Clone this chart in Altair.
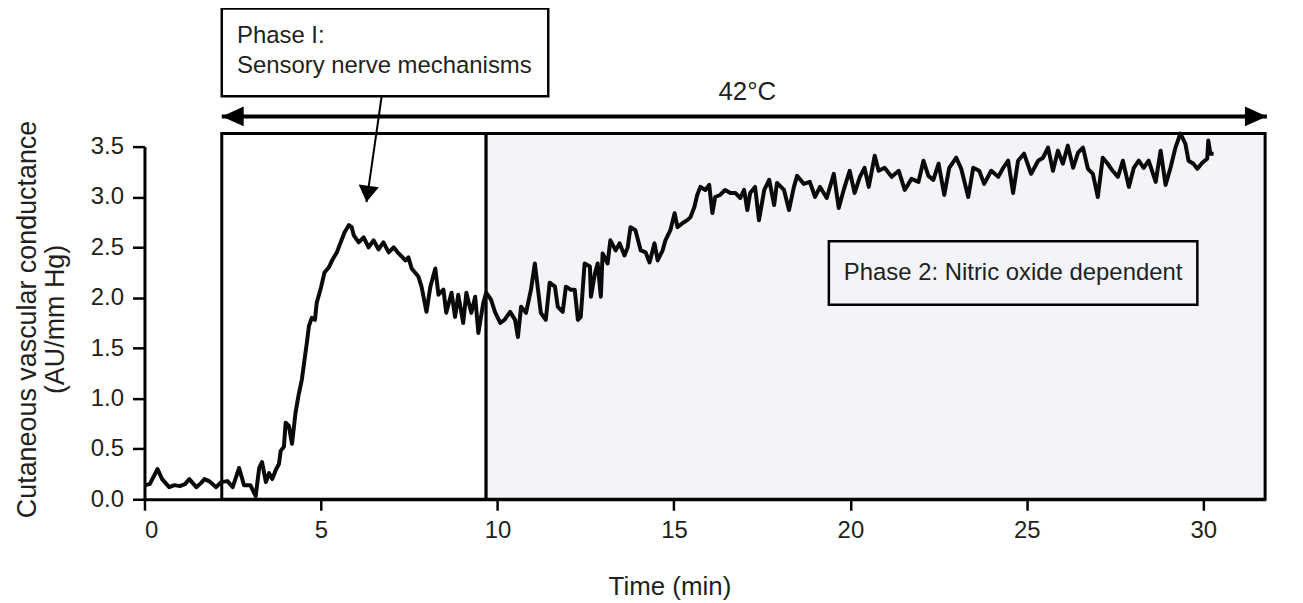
import altair as alt
import pandas as pd

# ---- data ----
time_min = [0.0, 0.15, 0.37, 0.5, 0.7, 0.85, 1.0, 1.15, 1.27, 1.47, 1.6, 1.7, 1.83, 2.03, 2.17, 2.35, 2.5,
            2.68, 2.82, 3.0, 3.15, 3.25, 3.33, 3.44, 3.53, 3.62, 3.72, 3.81, 3.86, 3.95, 4.0, 4.09, 4.18,
            4.28, 4.37, 4.46,
            4.54, 4.6, 4.66, 4.74, 4.83, 4.88, 5.0, 5.1, 5.22, 5.33, 5.45, 5.56, 5.67, 5.79, 5.87, 5.93,
            6.07, 6.21, 6.35, 6.49, 6.63, 6.77, 6.92, 7.06,
            7.2, 7.4, 7.48, 7.57, 7.76, 7.85, 7.99, 8.1, 8.24, 8.33, 8.47, 8.55, 8.7, 8.8, 8.89, 9.03,
            9.12, 9.26, 9.37, 9.46, 9.6, 9.68, 9.82, 9.93, 10.08, 10.2, 10.36, 10.5, 10.58, 10.67, 10.81,
            10.95, 11.06, 11.15, 11.23, 11.37, 11.48, 11.63, 11.71, 11.85, 11.94, 12.08, 12.19, 12.28,
            12.36, 12.47, 12.62, 12.65, 12.76, 12.84, 12.93, 12.98, 13.12, 13.2, 13.35, 13.46, 13.6,
            13.69, 13.77, 13.91, 14.06, 14.2, 14.31, 14.45, 14.54, 14.68, 14.76, 14.9, 15.02, 15.1,
            15.24, 15.38, 15.47, 15.58, 15.66, 15.75, 15.89, 16.0, 16.09, 16.17, 16.31, 16.45, 16.6,
            16.74, 16.88, 16.99, 17.08, 17.16, 17.3, 17.41, 17.56, 17.7, 17.84, 17.92, 18.12, 18.26,
            18.4,
            18.49, 18.68, 18.85, 19.0, 19.14, 19.33, 19.53, 19.67, 19.81, 19.98, 20.12, 20.27, 20.4,
            20.52, 20.69, 20.8, 20.97, 21.17, 21.37, 21.54, 21.73, 21.93, 22.07, 22.21, 22.35, 22.5,
            22.66, 22.8, 23.0, 23.14, 23.34, 23.48, 23.65, 23.79, 23.99, 24.19, 24.33, 24.47, 24.61,
            24.75, 24.92, 25.12, 25.32, 25.46, 25.6, 25.74, 25.88, 26.02, 26.16, 26.31, 26.45, 26.59,
            26.73, 26.87, 27.01, 27.15, 27.29, 27.43, 27.58, 27.72, 27.89, 28.03, 28.17, 28.31, 28.45,
            28.65, 28.79, 28.93, 29.07, 29.21, 29.35, 29.49, 29.58, 29.72, 29.83, 29.97, 30.11, 30.14,
            30.2, 30.29]
conductance = [0.14, 0.15, 0.30, 0.2, 0.12, 0.14, 0.13, 0.15, 0.2, 0.12, 0.16, 0.2, 0.18, 0.12, 0.17, 0.18, 0.12,
               0.31, 0.14, 0.14, 0.03, 0.31, 0.37, 0.17, 0.26, 0.2, 0.29, 0.35, 0.48, 0.52, 0.76, 0.73, 0.55,
               0.86, 1.04, 1.19,
               1.4, 1.55, 1.72, 1.8, 1.78, 1.95, 2.1, 2.25, 2.3, 2.38, 2.45, 2.55, 2.65, 2.72, 2.7, 2.62,
               2.55, 2.6, 2.5, 2.57, 2.48, 2.55, 2.45, 2.5,
               2.44, 2.37, 2.40, 2.29, 2.21, 2.11, 1.86, 2.11, 2.29, 2.03, 2.08, 1.85, 2.05, 1.81, 2.03, 1.75,
               2.05, 1.85, 2.01, 1.65, 1.95, 2.05, 1.98, 1.86, 1.75, 1.78, 1.86, 1.78, 1.61, 1.91, 1.85,
               2.08, 2.34, 2.08, 1.85, 1.78, 2.15, 2.11, 1.91, 1.86, 2.11, 2.08, 2.08, 1.78,
               1.81, 2.34, 2.31, 2.01, 2.24, 2.34, 2.01, 2.44, 2.34, 2.57, 2.47, 2.54, 2.42,
               2.5, 2.7, 2.67, 2.47, 2.45, 2.35, 2.54, 2.37, 2.47, 2.57, 2.67, 2.84, 2.7,
               2.74, 2.77, 2.8, 2.9, 3.02, 3.1, 3.07, 3.12, 2.84, 3.0, 3.02, 3.07, 3.04,
               3.04, 2.99, 3.07, 2.87, 3.04, 3.1, 2.77, 3.07, 3.17, 2.92, 3.14, 3.07, 2.87,
               3.1,
               3.21, 3.13, 3.15, 3.0, 3.1, 2.99, 3.23, 2.89, 3.07, 3.26, 3.04, 3.2, 3.29,
               3.1, 3.41, 3.26, 3.29, 3.2, 3.26, 3.07, 3.18, 3.15, 3.36, 3.21, 3.17, 3.33,
               3.02, 3.29, 3.39, 3.28, 3.0, 3.29, 3.26, 3.13, 3.26, 3.2, 3.29, 3.36, 3.04,
               3.36, 3.43, 3.23, 3.36, 3.39, 3.49, 3.26, 3.46, 3.33, 3.51, 3.29, 3.44, 3.49,
               3.28, 3.23, 3.0, 3.39, 3.33, 3.26, 3.2, 3.36, 3.1, 3.29, 3.36, 3.29, 3.36,
               3.15, 3.46, 3.12, 3.29, 3.49, 3.63, 3.53, 3.36, 3.33, 3.28, 3.34, 3.38, 3.56,
               3.43, 3.43]

x_ticks = [0, 5, 10, 15, 20, 25, 30]
y_ticks = [0.0, 0.5, 1.0, 1.5, 2.0, 2.5, 3.0, 3.5]

# phase regions (start, end, top, fill)
region_start = [2.19, 9.68]
region_end = [9.68, 31.75]
region_top = [3.63, 3.63]
region_fill = ["#ffffff", "#f3f4f8"]

# label boxes
label_box_x = [2.19, 19.39]
label_box_x2 = [11.44, 29.83]
label_box_y = [4.0, 1.93]
label_box_y2 = [4.87, 2.56]
label_box_fill = ["#ffffff", "#f3f4f8"]

# texts
text_labels = ["Phase I:", "Sensory nerve mechanisms", "Phase 2: Nitric oxide dependent", "42°C"]
text_x = [2.62, 2.62, 24.61, 17.08]
text_y = [4.6, 4.3, 2.25, 4.04]
text_align = ["left", "left", "center", "center"]
text_size = [24, 24, 24, 26]

# 42°C arrow
temp_arrow_start = 2.19
temp_arrow_end = 31.8
temp_arrow_y = 3.80

# Phase I pointer
pointer_from = (6.72, 4.0)
pointer_to = (6.29, 2.95)

FONT = "Liberation Sans"
TXT = "#231f20"

xs = alt.Scale(domain=[0, 31.75], nice=False, zero=False)
ys = alt.Scale(domain=[0, 3.5], nice=False, zero=False)

x_axis = alt.Axis(values=x_ticks, format="d", title="Time (min)", grid=False,
                  domainColor="black", domainWidth=3, tickColor="black", tickWidth=2.5,
                  tickSize=11, labelPadding=8, labelFont=FONT, labelFontSize=24, labelColor=TXT,
                  titleFont=FONT, titleFontSize=26, titleFontWeight="normal", titleColor=TXT,
                  titleX=527, titleY=96, titleAlign="center", titleBaseline="alphabetic")
y_axis = alt.Axis(values=y_ticks, format=".1f", title=["Cutaneous vascular conductance", "(AU/mm Hg)"],
                  grid=False, domainColor="black", domainWidth=3, tickColor="black", tickWidth=2.5,
                  tickSize=12, labelPadding=9, labelFont=FONT, labelFontSize=24, labelColor=TXT,
                  titleFont=FONT, titleFontSize=27, titleFontWeight="normal", titleColor=TXT,
                  titleAngle=270, titleX=-109, titleY=173, titleAlign="center",
                  titleBaseline="alphabetic", titleLineHeight=28)


def X(field="x"):
    return alt.X(f"{field}:Q", scale=xs, axis=x_axis)


def Y(field="y"):
    return alt.Y(f"{field}:Q", scale=ys, axis=y_axis)


regions = pd.DataFrame({"x": region_start, "x2": region_end, "y": [0, 0], "y2": region_top,
                        "fill": region_fill})
region_layer = alt.Chart(regions).mark_rect(stroke="black", strokeWidth=3).encode(
    x=X(), x2="x2:Q", y=Y(), y2="y2:Q", fill=alt.Fill("fill:N", scale=None))

line_df = pd.DataFrame({"x": time_min, "y": conductance})
line_layer = alt.Chart(line_df).mark_line(color="#0a0a0a", strokeWidth=4, strokeJoin="round").encode(
    x=X(), y=Y())

boxes = pd.DataFrame({"x": label_box_x, "x2": label_box_x2, "y": label_box_y, "y2": label_box_y2,
                      "fill": label_box_fill})
box_layer = alt.Chart(boxes).mark_rect(stroke="black", strokeWidth=2.5).encode(
    x=X(), x2="x2:Q", y=Y(), y2="y2:Q", fill=alt.Fill("fill:N", scale=None))

texts = pd.DataFrame({"x": text_x, "y": text_y, "t": text_labels, "align": text_align, "size": text_size})
text_layers = []
for al in ["left", "center"]:
    sub = texts[texts["align"] == al]
    text_layers.append(
        alt.Chart(sub).mark_text(align=al, baseline="middle", font=FONT, color=TXT).encode(
            x=X(), y=Y(), text="t:N", size=alt.Size("size:Q", scale=None)))

arrow_df = pd.DataFrame({"x": [temp_arrow_start], "x2": [temp_arrow_end], "y": [temp_arrow_y]})
arrow_line = alt.Chart(arrow_df).mark_rule(color="black", strokeWidth=4).encode(
    x=X(), x2="x2:Q", y=Y())

head_left = alt.Chart(pd.DataFrame({"x": [temp_arrow_start], "y": [temp_arrow_y]})).mark_point(
    shape="M0,0L2.2,-1L2.2,1Z", filled=True, size=400, color="black", opacity=1).encode(x=X(), y=Y())
head_right = alt.Chart(pd.DataFrame({"x": [temp_arrow_end], "y": [temp_arrow_y]})).mark_point(
    shape="M0,0L-2.2,-1L-2.2,1Z", filled=True, size=400, color="black", opacity=1).encode(x=X(), y=Y())

pointer_df = pd.DataFrame({"x": [pointer_from[0]], "y": [pointer_from[1]],
                           "x2": [pointer_to[0]], "y2": [pointer_to[1]]})
pointer_line = alt.Chart(pointer_df).mark_rule(color="black", strokeWidth=2).encode(
    x=X(), y=Y(), x2="x2:Q", y2="y2:Q")
pointer_head = alt.Chart(pd.DataFrame({"x": [pointer_to[0]], "y": [pointer_to[1]]})).mark_point(
    shape="M0,0L-1,-1.6L1,-1.6Z", filled=True, size=420, angle=8, color="black", opacity=1).encode(
    x=X(), y=Y())

chart = alt.layer(region_layer, line_layer, box_layer, arrow_line, head_left, head_right,
                  pointer_line, pointer_head, *text_layers).properties(
    width=1125, height=354,
    padding={"left": 137, "top": 138, "right": 30, "bottom": 103},
    autosize=alt.AutoSizeParams(type="none"),
    background="white",
).configure_view(stroke=None)

chart.save("out.html", embed_options={"renderer": "svg", "actions": False})
